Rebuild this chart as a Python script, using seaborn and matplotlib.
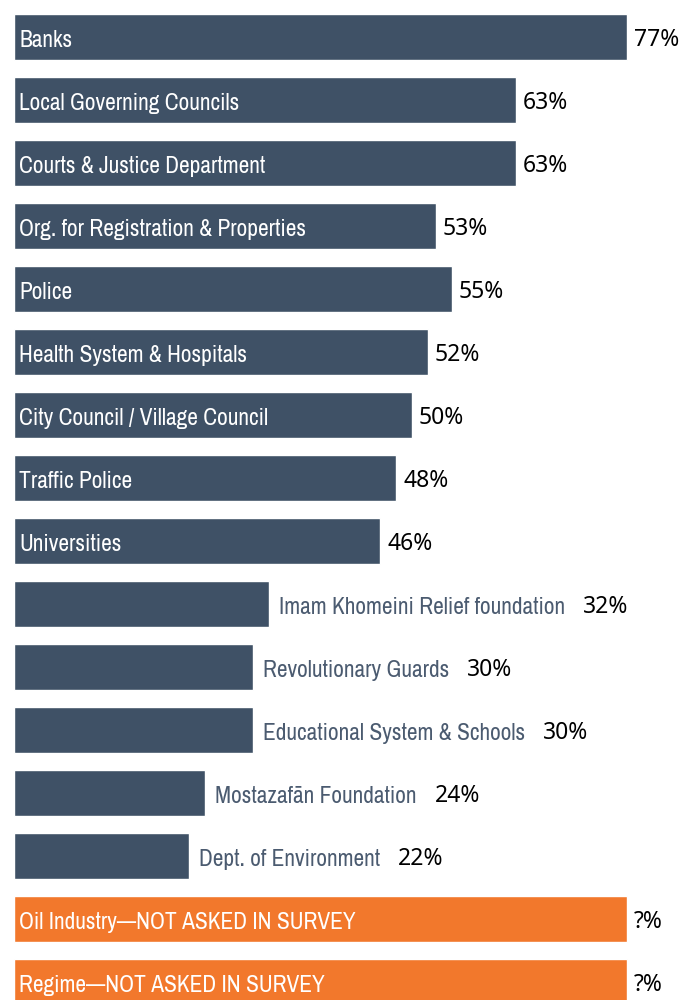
import matplotlib
matplotlib.use("Agg")
import matplotlib.pyplot as plt
from matplotlib import font_manager
from matplotlib.font_manager import FontProperties
import seaborn as sns
import pandas as pd

categories = [
    "Banks", "Local Governing Councils", "Courts & Justice Department",
    "Org. for Registration & Properties", "Police", "Health System & Hospitals",
    "City Council / Village Council", "Traffic Police", "Universities",
    "Imam Khomeini Relief foundation", "Revolutionary Guards",
    "Educational System & Schools", "Mostazafān Foundation",
    "Dept. of Environment", "Oil Industry\u2014NOT ASKED IN SURVEY",
    "Regime\u2014NOT ASKED IN SURVEY",
]
values = [77, 63, 63, 53, 55, 52, 50, 48, 46, 32, 30, 30, 24, 22, 77, 77]
value_labels = ["77%", "63%", "63%", "53%", "55%", "52%", "50%", "48%", "46%",
                "32%", "30%", "30%", "24%", "22%", "?%", "?%"]
label_inside = [True] * 9 + [False] * 5 + [True, True]
asked = [True] * 14 + [False, False]

SLATE = "#3F5166"
ORANGE = "#F2782C"
OUT_TXT = "#4B5B70"

# pick a narrow / condensed font if one is installed
cands = []
for f in font_manager.fontManager.ttflist:
    nm = f.name.lower()
    fn = f.fname.lower()
    if f.style != "normal" or ("bold" in fn) or f.weight not in (400, "normal", "regular"):
        continue
    score = None
    if "condensed" in nm or "narrow" in nm:
        score = 0
    elif "condensed" in fn or "narrow" in fn:
        score = 1
    elif f.stretch in ("condensed", "semi-condensed", "extra-condensed"):
        score = 2
    if score is not None:
        cands.append((score, f.fname))
cands.sort()
if cands:
    LAB_FP = FontProperties(fname=cands[0][1])
else:
    LAB_FP = FontProperties(family="Liberation Sans")
names = {f.name for f in font_manager.fontManager.ttflist}
PCT_FONT = "Noto Sans" if "Noto Sans" in names else "DejaVu Sans"

sns.set_theme(style="white")
df = pd.DataFrame({"cat": categories, "val": values})
palette = {c: (SLATE if a else ORANGE) for c, a in zip(categories, asked)}

fig = plt.figure(figsize=(6.92, 10), dpi=100)
ax = fig.add_axes([0, 0, 1, 1])
sns.barplot(data=df, y="cat", x="val", hue="cat", palette=palette,
            orient="h", width=0.73, legend=False, ax=ax, saturation=1)

px = 77 / 613.0  # data units per pixel
ax.set_xlim(-14 * px, (692 - 14) * px)
ax.set_ylim((1000 - 37) / 63.0, -37 / 63.0)
ax.axis("off")

# size the label font so that text widths match the reference
fig.canvas.draw()
renderer = fig.canvas.get_renderer()
probe = ax.text(0, 0, "Local Governing Councils", fontproperties=LAB_FP, fontsize=16)
w = probe.get_window_extent(renderer).width
probe.remove()
lab_size = min(19.0, 16 * 222.0 / w)

for i, (cat, v, lab, inside) in enumerate(zip(categories, values, value_labels, label_inside)):
    if inside:
        t = ax.text(5 * px, i + 0.03, cat, color="white", va="center_baseline",
                    ha="left", fontproperties=LAB_FP, fontsize=lab_size)
        ax.text(v + 7 * px, i, lab, color="black", fontsize=16.5, va="center_baseline",
                ha="left", family=PCT_FONT)
    else:
        t = ax.text(v + 10 * px, i + 0.03, cat, color=OUT_TXT, va="center_baseline",
                    ha="left", fontproperties=LAB_FP, fontsize=lab_size)
        bb = t.get_window_extent(renderer)
        xd = ax.transData.inverted().transform((bb.x1 + 18, 0))[0]
        ax.text(xd, i, lab, color="black", fontsize=16.5, va="center_baseline",
                ha="left", family=PCT_FONT)

fig.savefig("out.png", dpi=100)
